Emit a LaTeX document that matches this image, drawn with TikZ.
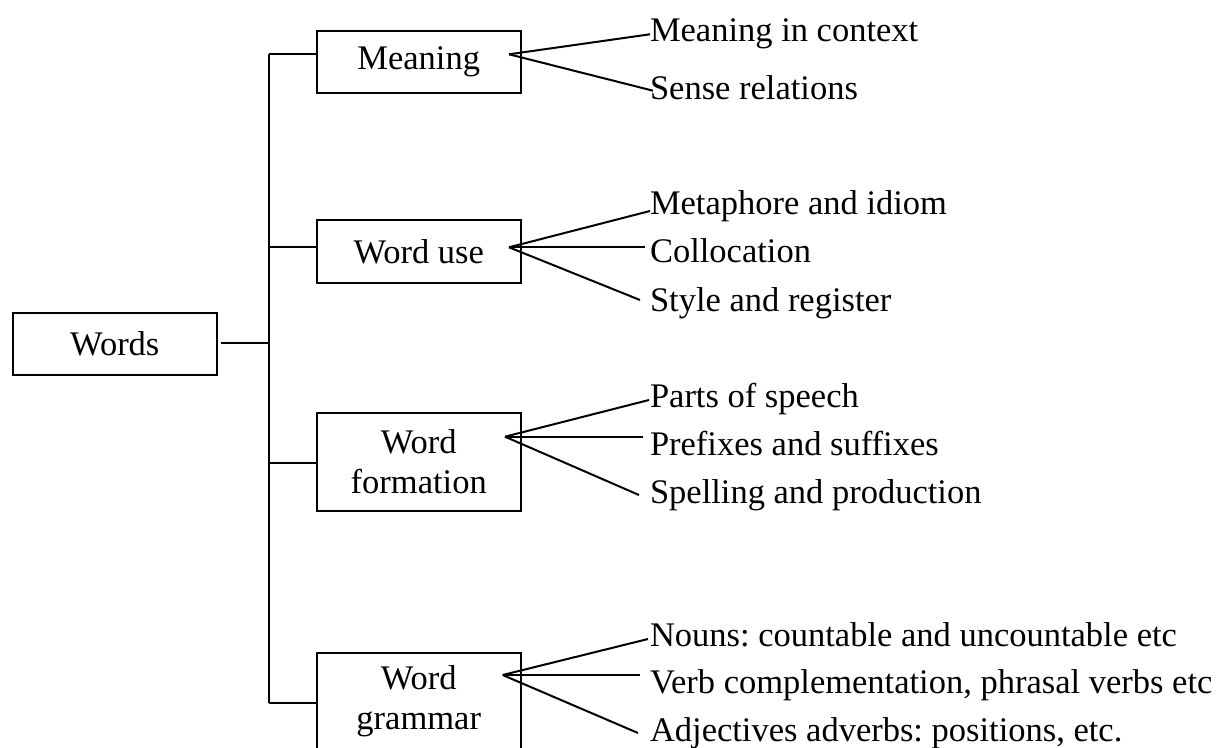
\documentclass[tikz,border=0pt]{standalone}
\usepackage{fontspec}
\setmainfont{Liberation Serif}
\frenchspacing
\begin{document}
\begin{tikzpicture}[x=0.5pt,y=-0.5pt,line width=1pt,
  every node/.style={font=\fontsize{17.25pt}{20pt}\selectfont},
  box/.style={draw,line width=1pt,inner sep=0pt,minimum width=102pt},
  leaf/.style={anchor=base west,inner sep=0pt},
  conn/.style={line width=1pt}]
\useasboundingbox (0,0) rectangle (1220,748);
\clip (0,0) rectangle (1220,748);

% boxes
\node[box,minimum height=31pt] (w) at (114.8,344) {Words};
\node[box,minimum height=31pt] (m) at (418.7,61.8) {Meaning};
\node[box,minimum height=31.3pt] (u) at (418.7,251.7) {Word use};
\node[box,minimum height=49pt,align=center] (f) at (418.7,462) {Word\\formation};
\node[box,minimum height=49pt,align=center] (g) at (418.7,701.7) {Word\\grammar};

% trunk
\coordinate (tm) at (269,54.3);
\coordinate (tu) at (269,247);
\coordinate (tf) at (269,463);
\coordinate (tg) at (269,703);
\coordinate (tw) at (269,343);
\coordinate (ws) at (220.7,343);
\draw[conn] (tm) -- (tg);
\draw[conn] (ws) -- (tw);
\draw[conn] (tm) -- (tm -| m.west);
\draw[conn] (tu) -- (tu -| u.west);
\draw[conn] (tf) -- (tf -| f.west);
\draw[conn] (tg) -- (tg -| g.west);

% leaves
\node[leaf] (lm1) at (649,41.7) {Meaning in context};
\node[leaf] (lm2) at (649,100) {Sense relations};
\node[leaf] (lu1) at (649,215) {Metaphore and idiom};
\node[leaf] (lu2) at (649,263) {Collocation};
\node[leaf] (lu3) at (649,311.7) {Style and register};
\node[leaf] (lf1) at (649,408) {Parts of speech};
\node[leaf] (lf2) at (649,455) {Prefixes and suffixes};
\node[leaf] (lf3) at (649,503) {Spelling and production};
\node[leaf] (lg1) at (649,646.7) {Nouns: countable and uncountable etc};
\node[leaf] (lg2) at (649,693) {Verb complementation, phrasal verbs etc};
\node[leaf] (lg3) at (649,741.7) {Adjectives adverbs: positions, etc.};

% fan origins and ends
\coordinate (mo) at (509,54.3);
\coordinate (m1) at (650,34.3);
\coordinate (m2) at (653,90.7);
\coordinate (uo) at (509,247.3);
\coordinate (u1) at (650,211);
\coordinate (u2) at (645,247.3);
\coordinate (u3) at (640,300);
\coordinate (fo) at (505,436.7);
\coordinate (f1) at (649,400);
\coordinate (f2) at (643,436.7);
\coordinate (f3) at (639,495);
\coordinate (go) at (502.7,675);
\coordinate (g1) at (648,639);
\coordinate (g2) at (640,675);
\coordinate (g3) at (638,733);

\draw[conn] (mo) -- (m1);
\draw[conn] (mo) -- (m2);
\draw[conn] (uo) -- (u1);
\draw[conn] (uo) -- (u2);
\draw[conn] (uo) -- (u3);
\draw[conn] (fo) -- (f1);
\draw[conn] (fo) -- (f2);
\draw[conn] (fo) -- (f3);
\draw[conn] (go) -- (g1);
\draw[conn] (go) -- (g2);
\draw[conn] (go) -- (g3);
\end{tikzpicture}
\end{document}
